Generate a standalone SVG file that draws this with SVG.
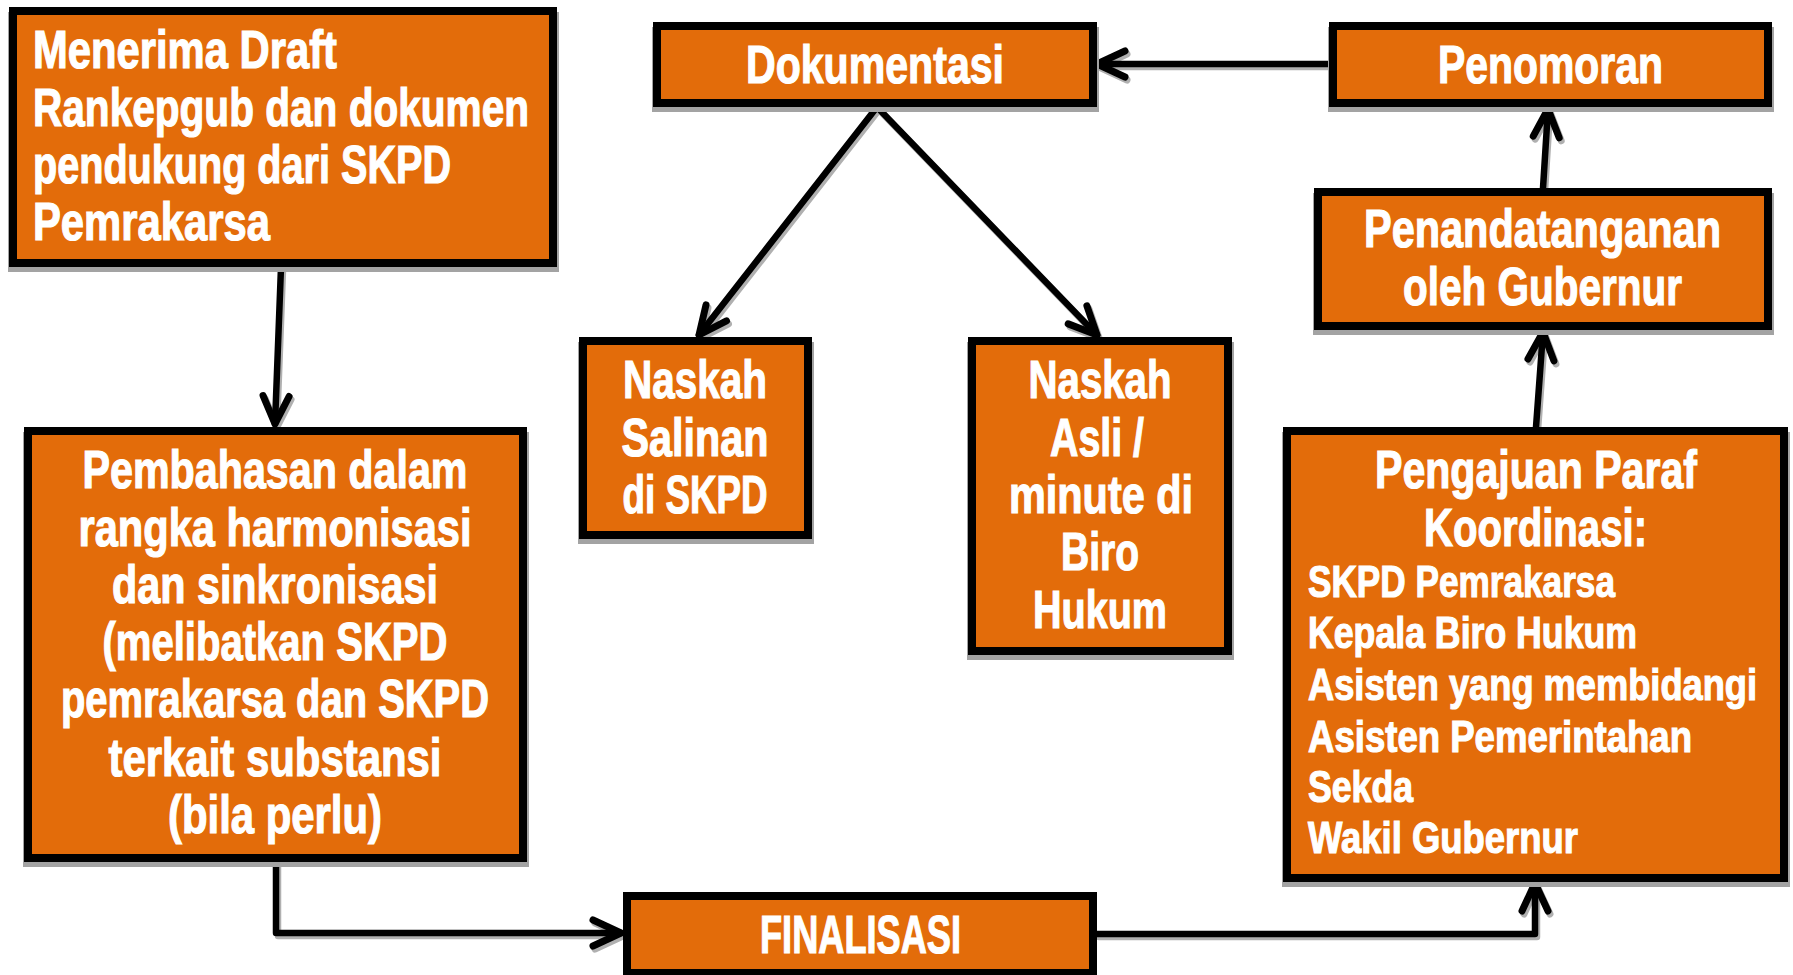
<svg xmlns="http://www.w3.org/2000/svg" width="1793" height="975" viewBox="0 0 1793 975">
<style>
.box{fill:#E36C0A;stroke:#000;stroke-width:8}
.sh{fill:#A3A3A3}
.t{font-family:"Liberation Sans Narrow","Liberation Sans",Arial,sans-serif;font-weight:bold;font-size:53px;fill:#fff;stroke:#fff;stroke-width:1.2}
.s{font-size:45px}
.c{text-anchor:middle}
.ln{fill:none;stroke:#000;stroke-width:6.5;stroke-linecap:round;stroke-linejoin:round}
.lsh{fill:none;stroke:#B0B0B0;stroke-width:6.5;stroke-linecap:round;stroke-linejoin:round}
</style>
<defs>
<marker id="ah" viewBox="-40 -24 48 48" markerWidth="48" markerHeight="48" refX="0" refY="0" orient="auto" markerUnits="userSpaceOnUse" overflow="visible">
<path d="M-28,-13 L0,0 L-28,13" fill="none" stroke="#000" stroke-width="7" stroke-linecap="round" stroke-linejoin="round"/>
</marker>
<marker id="ahs" viewBox="-40 -24 48 48" markerWidth="48" markerHeight="48" refX="0" refY="0" orient="auto" markerUnits="userSpaceOnUse" overflow="visible">
<path d="M-28,-13 L0,0 L-28,13" fill="none" stroke="#B0B0B0" stroke-width="7" stroke-linecap="round" stroke-linejoin="round"/>
</marker>
</defs>

<g id="connectors">
<g transform="translate(2,3)">
<path class="lsh" d="M281,267 L275,424" marker-end="url(#ahs)"/>
<path class="lsh" d="M1329,64 L1097,64" marker-end="url(#ahs)"/>
<path class="lsh" d="M877,107 L699,335" marker-end="url(#ahs)"/>
<path class="lsh" d="M877,107 L1097,335" marker-end="url(#ahs)"/>
<path class="lsh" d="M276,862 L276,933 L621,933" marker-end="url(#ahs)"/>
<path class="lsh" d="M1097,934 L1535,934 L1535,883" marker-end="url(#ahs)"/>
<path class="lsh" d="M1536,427 L1543,332" marker-end="url(#ahs)"/>
<path class="lsh" d="M1543,188 L1548,109" marker-end="url(#ahs)"/>
</g>
<path class="ln" d="M281,267 L275,424" marker-end="url(#ah)"/>
<path class="ln" d="M1329,64 L1097,64" marker-end="url(#ah)"/>
<path class="ln" d="M877,107 L699,335" marker-end="url(#ah)"/>
<path class="ln" d="M877,107 L1097,335" marker-end="url(#ah)"/>
<path class="ln" d="M276,862 L276,933 L621,933" marker-end="url(#ah)"/>
<path class="ln" d="M1097,934 L1535,934 L1535,883" marker-end="url(#ah)"/>
<path class="ln" d="M1536,427 L1543,332" marker-end="url(#ah)"/>
<path class="ln" d="M1543,188 L1548,109" marker-end="url(#ah)"/>
</g>

<g id="n-menerima">
<rect class="sh" x="8" y="12" width="551" height="260"/>
<rect class="box" x="13" y="11" width="540" height="252"/>
<text class="t" x="33" y="68" textLength="304" lengthAdjust="spacingAndGlyphs">Menerima Draft</text>
<text class="t" x="33" y="126" textLength="496" lengthAdjust="spacingAndGlyphs">Rankepgub dan dokumen</text>
<text class="t" x="33" y="183" textLength="418" lengthAdjust="spacingAndGlyphs">pendukung dari SKPD</text>
<text class="t" x="33" y="240" textLength="237" lengthAdjust="spacingAndGlyphs">Pemrakarsa</text>
</g>

<g id="n-dokumentasi">
<rect class="sh" x="652" y="27" width="447" height="85"/>
<rect class="box" x="657" y="26" width="436" height="77"/>
<text class="t c" x="875" y="83" textLength="258" lengthAdjust="spacingAndGlyphs">Dokumentasi</text>
</g>

<g id="n-penomoran">
<rect class="sh" x="1328" y="27" width="446" height="85"/>
<rect class="box" x="1333" y="26" width="435" height="77"/>
<text class="t c" x="1550.5" y="83" textLength="225" lengthAdjust="spacingAndGlyphs">Penomoran</text>
</g>

<g id="n-penandatanganan">
<rect class="sh" x="1313" y="193" width="461" height="142"/>
<rect class="box" x="1318" y="192" width="450" height="134"/>
<text class="t c" x="1542.5" y="247" font-size="51" textLength="357" lengthAdjust="spacingAndGlyphs">Penandatanganan</text>
<text class="t c" x="1542.5" y="305" textLength="279" lengthAdjust="spacingAndGlyphs">oleh Gubernur</text>
</g>

<g id="n-pembahasan">
<rect class="sh" x="23" y="432" width="506" height="435"/>
<rect class="box" x="28" y="431" width="495" height="427"/>
<text class="t c" x="275" y="488" textLength="385" lengthAdjust="spacingAndGlyphs">Pembahasan dalam</text>
<text class="t c" x="275" y="546" textLength="393" lengthAdjust="spacingAndGlyphs">rangka harmonisasi</text>
<text class="t c" x="275" y="603" textLength="326" lengthAdjust="spacingAndGlyphs">dan sinkronisasi</text>
<text class="t c" x="275" y="660" textLength="345" lengthAdjust="spacingAndGlyphs">(melibatkan SKPD</text>
<text class="t c" x="275" y="717" textLength="428" lengthAdjust="spacingAndGlyphs">pemrakarsa dan SKPD</text>
<text class="t c" x="275" y="776" textLength="333" lengthAdjust="spacingAndGlyphs">terkait substansi</text>
<text class="t c" x="275" y="833" textLength="214" lengthAdjust="spacingAndGlyphs">(bila perlu)</text>
</g>

<g id="n-salinan">
<rect class="sh" x="578" y="342" width="236" height="202"/>
<rect class="box" x="583" y="341" width="225" height="194"/>
<text class="t c" x="695" y="398" textLength="144" lengthAdjust="spacingAndGlyphs">Naskah</text>
<text class="t c" x="695" y="456" textLength="147" lengthAdjust="spacingAndGlyphs">Salinan</text>
<text class="t c" x="695" y="513" textLength="145" lengthAdjust="spacingAndGlyphs">di SKPD</text>
</g>

<g id="n-asli">
<rect class="sh" x="967" y="342" width="267" height="318"/>
<rect class="box" x="972" y="341" width="256" height="310"/>
<text class="t c" x="1100" y="398" textLength="143" lengthAdjust="spacingAndGlyphs">Naskah</text>
<text class="t c" x="1097" y="456" textLength="94" lengthAdjust="spacingAndGlyphs">Asli /</text>
<text class="t c" x="1101" y="513" textLength="184" lengthAdjust="spacingAndGlyphs">minute di</text>
<text class="t c" x="1100" y="570" textLength="78" lengthAdjust="spacingAndGlyphs">Biro</text>
<text class="t c" x="1100" y="628" textLength="134" lengthAdjust="spacingAndGlyphs">Hukum</text>
</g>

<g id="n-pengajuan">
<rect class="sh" x="1282" y="432" width="508" height="455"/>
<rect class="box" x="1287" y="431" width="497" height="447"/>
<text class="t c" x="1536" y="488" textLength="322" lengthAdjust="spacingAndGlyphs">Pengajuan Paraf</text>
<text class="t c" x="1535.5" y="546" textLength="223" lengthAdjust="spacingAndGlyphs">Koordinasi:</text>
<text class="t s" x="1308" y="597" textLength="307" lengthAdjust="spacingAndGlyphs">SKPD Pemrakarsa</text>
<text class="t s" x="1308" y="648" textLength="329" lengthAdjust="spacingAndGlyphs">Kepala Biro Hukum</text>
<text class="t s" x="1308" y="700" font-size="44" textLength="449" lengthAdjust="spacingAndGlyphs">Asisten yang membidangi</text>
<text class="t s" x="1308" y="752" textLength="384" lengthAdjust="spacingAndGlyphs">Asisten Pemerintahan</text>
<text class="t s" x="1308" y="802" textLength="105" lengthAdjust="spacingAndGlyphs">Sekda</text>
<text class="t s" x="1308" y="853" textLength="270" lengthAdjust="spacingAndGlyphs">Wakil Gubernur</text>
</g>

<g id="n-finalisasi">
<rect class="box" x="627" y="896" width="466" height="77"/>
<text class="t c" x="860.5" y="953" textLength="201" lengthAdjust="spacingAndGlyphs">FINALISASI</text>
</g>
</svg>
